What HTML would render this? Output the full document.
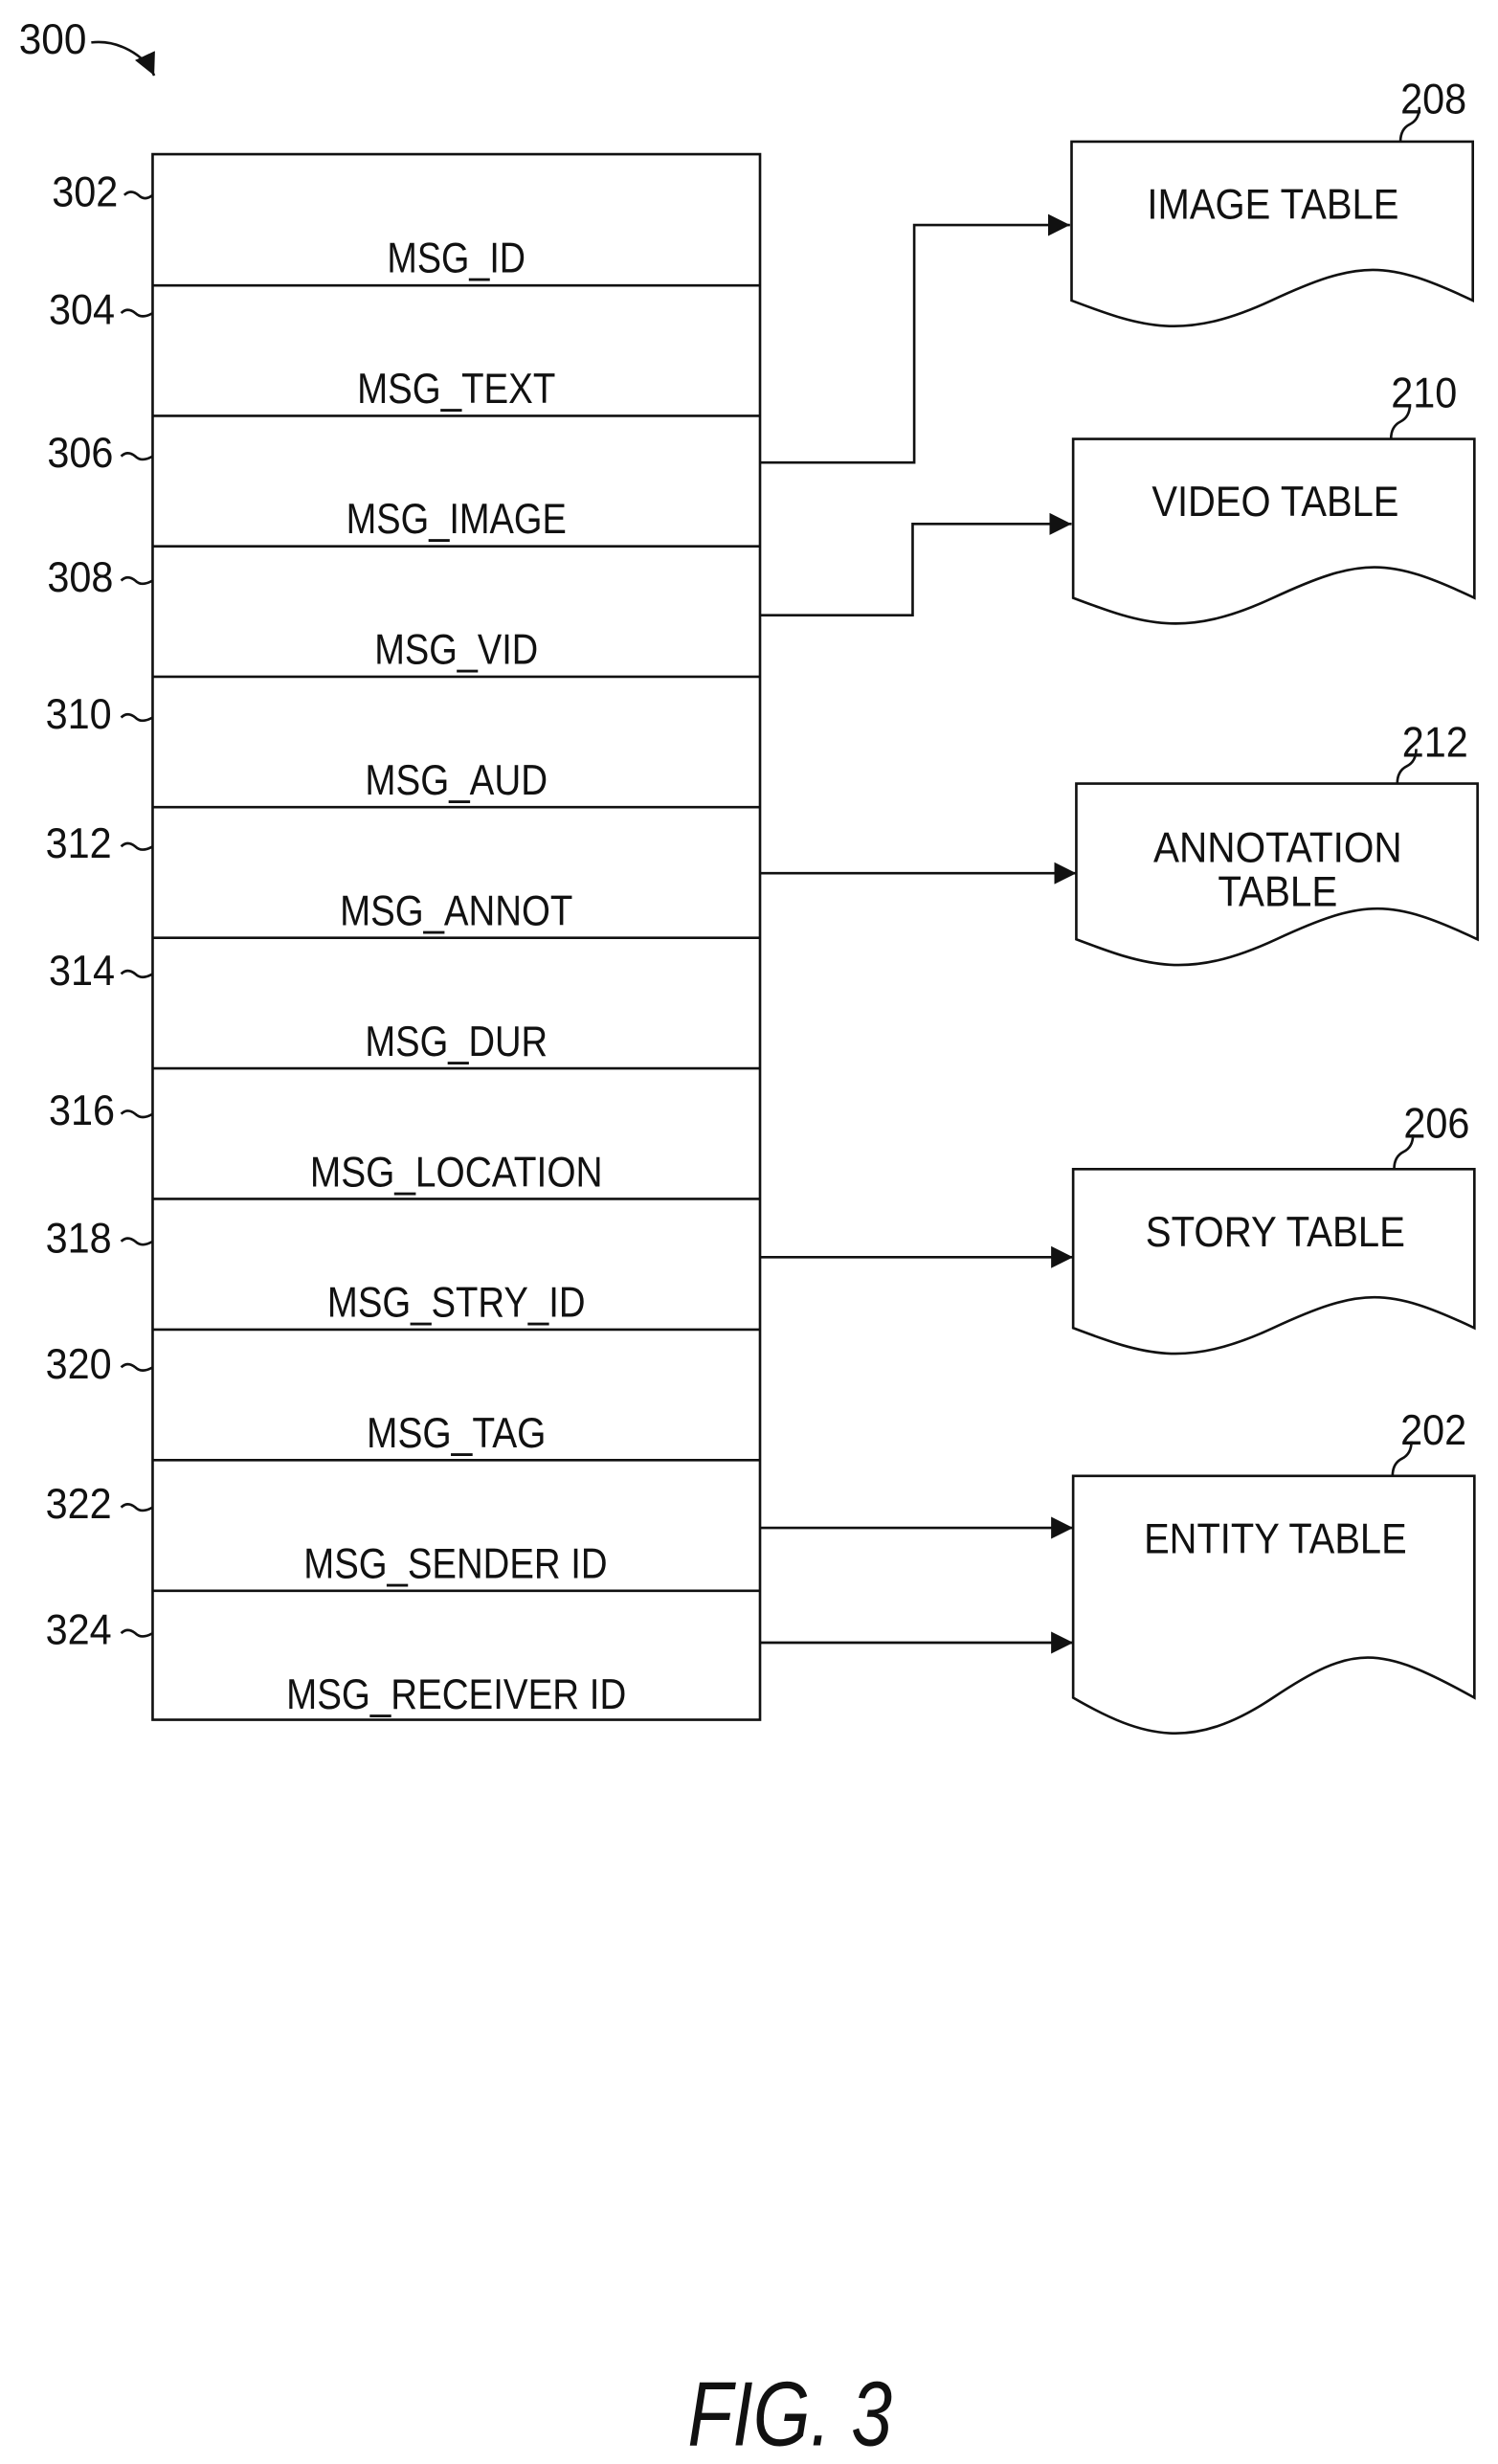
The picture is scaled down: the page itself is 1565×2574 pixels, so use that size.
<!DOCTYPE html>
<html><head><meta charset="utf-8"><style>
html,body{margin:0;padding:0;background:#fff;}
svg{display:block;}
text{font-family:"Liberation Sans",sans-serif;fill:#111;}
</style></head><body>
<svg width="1565" height="2574" viewBox="0 0 952 1566" preserveAspectRatio="none" xmlns="http://www.w3.org/2000/svg">
<defs>
<marker id="a" viewBox="0 0 10 10" refX="10" refY="5" markerWidth="14" markerHeight="14" markerUnits="userSpaceOnUse" orient="auto"><path d="M0,0 L10,5 L0,10 z" fill="#111"/></marker>
</defs>
<g fill="none" stroke="#111" stroke-width="1.6">
<path d="M58,27 C75,25 92,35 98,48" marker-end="url(#a)"/>
<rect x="97" y="98" width="386" height="995"/>
<path d="M97,181.4H483M97,264.3H483M97,347.2H483M97,430.1H483M97,513H483M97,596H483M97,679H483M97,762H483M97,845H483M97,928H483M97,1011H483"/>
<path d="M79,124 q4,-4 9,0 q4,4 9,0"/>
<path d="M77,199 q4,-4 9,0 q4,4 11,0"/>
<path d="M77,290 q4,-4 9,0 q4,4 11,0"/>
<path d="M77,369 q4,-4 9,0 q4,4 11,0"/>
<path d="M77,456 q4,-4 9,0 q4,4 11,0"/>
<path d="M77,538 q4,-4 9,0 q4,4 11,0"/>
<path d="M77,619 q4,-4 9,0 q4,4 11,0"/>
<path d="M77,708 q4,-4 9,0 q4,4 11,0"/>
<path d="M77,789 q4,-4 9,0 q4,4 11,0"/>
<path d="M77,869 q4,-4 9,0 q4,4 11,0"/>
<path d="M77,958 q4,-4 9,0 q4,4 11,0"/>
<path d="M77,1038 q4,-4 9,0 q4,4 11,0"/>
<path d="M681,90H936V191C881,165 864,165 808,191S726,208 681,191Z"/>
<path d="M682,279H937V380C882,354 865,354 809,380S727,397 682,380Z"/>
<path d="M684,498H939V597C884,571 867,571 811,597S729,614 684,597Z"/>
<path d="M682,743H937V844C882,818 865,818 809,844S727,861 682,844Z"/>
<path d="M682,938H937V1079C876,1045 860,1045 809,1079S727,1105 682,1079Z"/>
<path d="M890,90 q0,-8 6,-11 q6,-3 6,-11"/>
<path d="M884,279 q0,-8 6,-11 q6,-3 6,-11"/>
<path d="M888,498 q0,-8 6,-11 q6,-3 6,-11"/>
<path d="M886,743 q0,-8 6,-11 q6,-3 6,-11"/>
<path d="M885,938 q0,-8 6,-11 q6,-3 6,-11"/>
<path d="M483,294H581V143H680" marker-end="url(#a)"/>
<path d="M483,391H580V333H681" marker-end="url(#a)"/>
<path d="M483,555H684" marker-end="url(#a)"/>
<path d="M483,799H682" marker-end="url(#a)"/>
<path d="M483,971H682" marker-end="url(#a)"/>
<path d="M483,1044H682" marker-end="url(#a)"/>
</g>
<g font-size="27">
<text x="12" y="34" textLength="43" lengthAdjust="spacingAndGlyphs">300</text>
<text x="33" y="131" textLength="42" lengthAdjust="spacingAndGlyphs">302</text>
<text x="31" y="206" textLength="42" lengthAdjust="spacingAndGlyphs">304</text>
<text x="30" y="297" textLength="42" lengthAdjust="spacingAndGlyphs">306</text>
<text x="30" y="376" textLength="42" lengthAdjust="spacingAndGlyphs">308</text>
<text x="29" y="463" textLength="42" lengthAdjust="spacingAndGlyphs">310</text>
<text x="29" y="545" textLength="42" lengthAdjust="spacingAndGlyphs">312</text>
<text x="31" y="626" textLength="42" lengthAdjust="spacingAndGlyphs">314</text>
<text x="31" y="715" textLength="42" lengthAdjust="spacingAndGlyphs">316</text>
<text x="29" y="796" textLength="42" lengthAdjust="spacingAndGlyphs">318</text>
<text x="29" y="876" textLength="42" lengthAdjust="spacingAndGlyphs">320</text>
<text x="29" y="965" textLength="42" lengthAdjust="spacingAndGlyphs">322</text>
<text x="29" y="1045" textLength="42" lengthAdjust="spacingAndGlyphs">324</text>
<text x="890" y="72" textLength="42" lengthAdjust="spacingAndGlyphs">208</text>
<text x="884" y="259" textLength="42" lengthAdjust="spacingAndGlyphs">210</text>
<text x="891" y="481" textLength="42" lengthAdjust="spacingAndGlyphs">212</text>
<text x="892" y="723" textLength="42" lengthAdjust="spacingAndGlyphs">206</text>
<text x="890" y="918" textLength="42" lengthAdjust="spacingAndGlyphs">202</text>
<text x="246" y="173" textLength="88" lengthAdjust="spacingAndGlyphs">MSG_ID</text>
<text x="227" y="256" textLength="126" lengthAdjust="spacingAndGlyphs">MSG_TEXT</text>
<text x="220" y="339" textLength="140" lengthAdjust="spacingAndGlyphs">MSG_IMAGE</text>
<text x="238" y="422" textLength="104" lengthAdjust="spacingAndGlyphs">MSG_VID</text>
<text x="232" y="505" textLength="116" lengthAdjust="spacingAndGlyphs">MSG_AUD</text>
<text x="216" y="588" textLength="148" lengthAdjust="spacingAndGlyphs">MSG_ANNOT</text>
<text x="232" y="671" textLength="116" lengthAdjust="spacingAndGlyphs">MSG_DUR</text>
<text x="197" y="754" textLength="186" lengthAdjust="spacingAndGlyphs">MSG_LOCATION</text>
<text x="208" y="837" textLength="164" lengthAdjust="spacingAndGlyphs">MSG_STRY_ID</text>
<text x="233" y="920" textLength="114" lengthAdjust="spacingAndGlyphs">MSG_TAG</text>
<text x="193" y="1003" textLength="193" lengthAdjust="spacingAndGlyphs">MSG_SENDER ID</text>
<text x="182" y="1086" textLength="216" lengthAdjust="spacingAndGlyphs">MSG_RECEIVER ID</text>
<text x="729" y="139" textLength="160" lengthAdjust="spacingAndGlyphs">IMAGE TABLE</text>
<text x="732" y="328" textLength="157" lengthAdjust="spacingAndGlyphs">VIDEO TABLE</text>
<text x="733" y="548" textLength="158" lengthAdjust="spacingAndGlyphs">ANNOTATION</text>
<text x="774" y="576" textLength="76" lengthAdjust="spacingAndGlyphs">TABLE</text>
<text x="728" y="792" textLength="165" lengthAdjust="spacingAndGlyphs">STORY TABLE</text>
<text x="727" y="987" textLength="167" lengthAdjust="spacingAndGlyphs">ENTITY TABLE</text>
</g>
<text x="437" y="1554" font-size="58" font-style="italic" textLength="130" lengthAdjust="spacingAndGlyphs">FIG. 3</text>
</svg>
</body></html>
